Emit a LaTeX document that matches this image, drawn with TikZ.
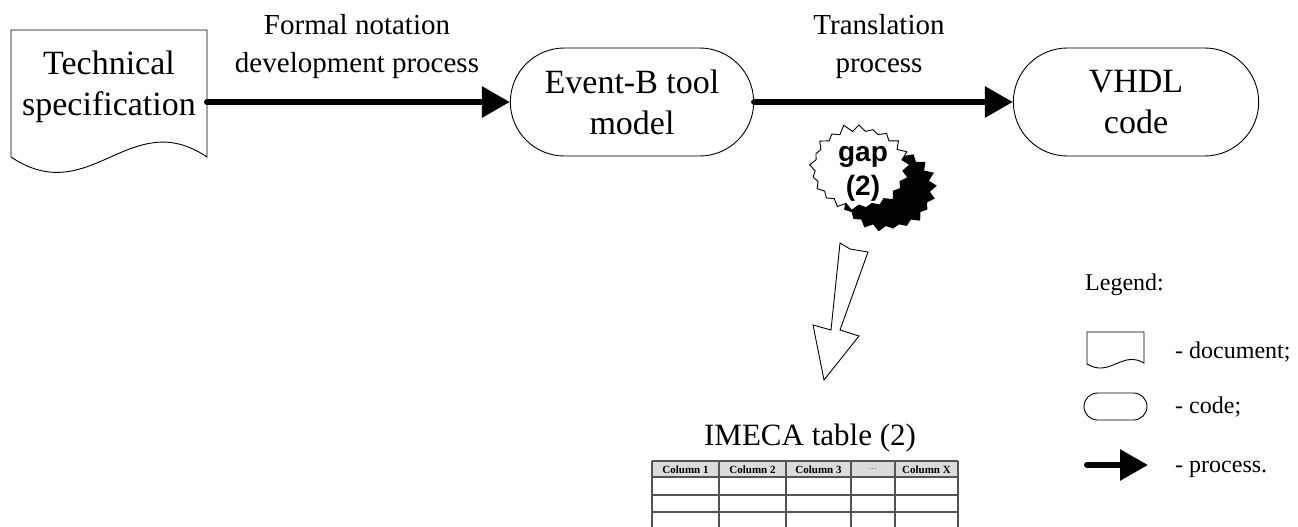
\documentclass[tikz,border=0pt]{standalone}
\usepackage{fontspec}
\setmainfont{Liberation Serif}
\newfontfamily\burstfont{Liberation Sans}
\usetikzlibrary{arrows.meta}
\usetikzlibrary{shapes.misc}
\usetikzlibrary{shapes.symbols}
\usetikzlibrary{shadows}
\definecolor{gridline}{rgb}{0.33,0.33,0.33}
\definecolor{headfill}{rgb}{0.86,0.86,0.86}

\tikzset{
    codebox/.style={rounded rectangle, draw, line width=0.9pt, minimum width=250pt, minimum height=108pt, align=center, font=\fontsize{34}{41}\selectfont},
    process/.style={line width=6pt, line cap=round, -{Triangle[length=28pt,width=30pt]}},
    caption/.style={align=center, inner sep=0pt, font=\fontsize{29}{38}\selectfont},
    burst/.style={starburst, starburst points=21, starburst point height=8pt, random starburst=11, draw, fill=white, line width=0.9pt, minimum width=104pt, minimum height=90pt, inner sep=0pt},
    bursttext/.style={align=center, inner sep=0pt, font=\burstfont\bfseries\fontsize{28}{34}\selectfont},
    headcell/.style={inner sep=0pt, font=\bfseries\fontsize{11}{12}\selectfont},
    legendtext/.style={anchor=base west, inner sep=0pt, font=\fontsize{24}{28}\selectfont},
}

\begin{document}
\begin{tikzpicture}[x=1pt, y=-1pt]
    \useasboundingbox (0,0) rectangle (1298,527);

    % technical specification (document sheet)
    \draw[line width=0.9pt] (11,157) -- (11,30) -- (207,30) -- (207,157)
        .. controls (130,105) and (90,210) .. cycle;
    \node[align=center, font=\fontsize{34}{41}\selectfont] (spec) at (109,87) {Technical\\specification};
    \coordinate (spec-out) at (207,102);

    % models and code
    \node[codebox] (model) at (632,102) {Event-B tool\\model};
    \node[codebox, minimum width=252pt] (vhdl) at (1136,102) {VHDL\\code};

    % processes
    \draw[process] (spec-out) -- (model.west);
    \draw[process] (model.east) -- (vhdl.west);
    \node[caption] (formal) at (357,47) {Formal notation\\development process};
    \node[caption] (transl) at (879,47) {Translation\\process};

    % gap and its table
    \node[burst, drop shadow={shadow xshift=27pt, shadow yshift=-21pt, opacity=1, fill=black}] (gap) at (859,168) {};
    \node[bursttext] (gaptext) at (863,174) {gap\\(2)};

    \draw[line width=0.9pt, fill=white] (840,243) -- (850,249) -- (868,252) -- (840,330)
        -- (859,336) -- (824,380) -- (813,325) -- (831,330) -- cycle;

    \node[anchor=base, inner sep=0pt, font=\fontsize{31}{36}\selectfont] (imeca) at (810,445) {IMECA table (2)};

    \fill[headfill] (652,461) rectangle (958,477);
    \foreach \y in {461,477,495,512}
        \draw[gridline, line width=1.6pt] (652,\y) -- (958,\y);
    \foreach \x in {652,719,786,851,895,958}
        \draw[gridline, line width=1.6pt] (\x,461) -- (\x,527);
    \foreach \xa/\xb/\head [count=\i] in {652/719/Column 1, 719/786/Column 2, 786/851/Column 3, 895/958/Column X}
        \node[headcell] (head\i) at ({(\xa+\xb)/2},469.5) {\head};
    \node[headcell, text=gridline!70, font=\fontsize{11}{12}\selectfont] (headdots) at (873,469.5) {...};

    % legend
    \node[legendtext] (legend) at (1085,290) {Legend:};
    \draw[line width=0.9pt] (1087,364) -- (1087,332) -- (1144,332) -- (1144,363)
        .. controls (1122,350) and (1110,378) .. cycle;
    \node[legendtext] (ldoc) at (1175,358) {- document;};
    \node[rounded rectangle, draw, line width=0.9pt, minimum width=63pt, minimum height=27pt, inner sep=0pt] (lcode) at (1115.5,406.5) {};
    \node[legendtext] (lcodetxt) at (1175,413) {- code;};
    \coordinate (lproc-a) at (1087,465);
    \coordinate (lproc-b) at (1148,465);
    \draw[process] (lproc-a) -- (lproc-b);
    \node[legendtext] (lproc) at (1175,472) {- process.};

\end{tikzpicture}
\end{document}
